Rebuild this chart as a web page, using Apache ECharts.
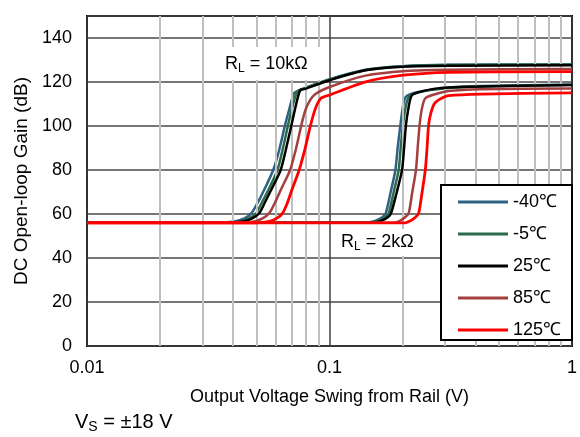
<!DOCTYPE html>
<html><head><meta charset="utf-8">
<script src="https://cdn.jsdelivr.net/npm/echarts@6/dist/echarts.min.js"></script>
<style>html,body{margin:0;padding:0;background:#fff}#c{width:580px;height:437px}</style>
</head><body><div id="c"></div>
<script>
const temps = ['-40℃', '-5℃', '25℃', '85℃', '125℃'];
const colors = ['#2e6283', '#2c6b4a', '#000000', '#a33f3f', '#ff0000'];
const yTicks = [0, 20, 40, 60, 80, 100, 120, 140];
const minorGrid = [0.02, 0.03, 0.04, 0.05, 0.06, 0.07, 0.08, 0.09, 0.2, 0.3, 0.4, 0.5, 0.6, 0.7, 0.8, 0.9];

// R_L = 10 kOhm  [V from rail, dB]
const rl10k_m40 = [[0.01,56],[0.034,56],[0.0405,56.6],[0.0446,58],[0.0476,60.3],[0.0504,64.8],[0.0538,71],[0.0586,80],[0.0620,89],[0.0656,100.5],[0.0682,107.5],[0.0715,115],[0.075,116.2],[0.0995,121.2],[0.141,125.6],[0.206,127.3],[0.31,127.8],[1,128]];
const rl10k_m5  = [[0.01,56],[0.036,56],[0.0425,56.6],[0.0467,58],[0.0498,60.3],[0.0525,65],[0.0560,71],[0.0610,80],[0.0640,89],[0.0675,100.5],[0.0700,108],[0.0738,115.8],[0.078,117],[0.0995,121],[0.141,125.5],[0.206,127.2],[0.31,127.7],[1,127.9]];
const rl10k_25  = [[0.01,56],[0.037,56],[0.0440,56.6],[0.0480,58],[0.0513,60.3],[0.0540,65],[0.0575,71],[0.0629,80],[0.0660,89],[0.0697,100.5],[0.0722,108],[0.0757,116.2],[0.080,117],[0.0995,120.7],[0.141,125.3],[0.206,127],[0.31,127.4],[1,127.6]];
const rl10k_85  = [[0.01,56],[0.042,56],[0.049,56.6],[0.053,58],[0.0564,60.3],[0.0595,65],[0.0630,71],[0.0688,80],[0.0725,89],[0.0766,100.5],[0.080,108],[0.0864,114],[0.0995,117.6],[0.141,122.9],[0.206,125],[0.31,125.6],[1,125.9]];
const rl10k_125 = [[0.01,56],[0.050,56],[0.0565,56.6],[0.0605,58],[0.0640,60.3],[0.0670,65],[0.0700,71],[0.0750,80],[0.0790,89],[0.0836,100.5],[0.0875,108],[0.0922,112.6],[0.0995,114],[0.141,120.1],[0.206,123.2],[0.31,124.4],[1,124.7]];

// R_L = 2 kOhm
const rl2k_m40 = [[0.01,56],[0.14,56],[0.155,57],[0.165,58.5],[0.1706,60.3],[0.1788,70],[0.1870,80],[0.1910,90],[0.1961,100.5],[0.2003,108],[0.2052,112.9],[0.215,114.5],[0.25,116.2],[0.31,117.5],[0.42,118.2],[1,118.8]];
const rl2k_m5  = [[0.01,56],[0.145,56],[0.160,57],[0.170,58.5],[0.1755,60.3],[0.1840,70],[0.1929,80],[0.1965,90],[0.2009,100.5],[0.2055,108],[0.2121,113.3],[0.225,114.8],[0.26,116.3],[0.31,117.3],[0.42,118],[1,118.7]];
const rl2k_25  = [[0.01,56],[0.150,56],[0.164,57],[0.174,58.5],[0.1794,60.3],[0.1895,70],[0.1991,80],[0.2030,90],[0.2067,100.5],[0.2115,108],[0.2180,113.8],[0.232,115.3],[0.28,117.1],[0.42,117.9],[1,118.6]];
const rl2k_85  = [[0.01,56],[0.185,56],[0.196,57],[0.205,58.5],[0.2121,60.3],[0.2195,70],[0.2273,80],[0.2310,90],[0.2353,100.5],[0.2405,108],[0.2484,112.6],[0.27,114.3],[0.31,115.9],[0.42,116.7],[1,117.1]];
const rl2k_125 = [[0.01,56],[0.205,56],[0.217,57],[0.226,58.5],[0.2332,60.3],[0.2410,70],[0.2484,80],[0.2525,90],[0.2563,100.5],[0.2620,106],[0.2713,110.3],[0.29,112.6],[0.31,113.8],[0.423,114.5],[1,115.1]];

const curves10k = [rl10k_m40, rl10k_m5, rl10k_25, rl10k_85, rl10k_125];
const curves2k = [rl2k_m40, rl2k_m5, rl2k_25, rl2k_85, rl2k_125];

const FONT = "'Liberation Sans', Arial, sans-serif";
const chart = echarts.init(document.getElementById('c'), null, {renderer: 'canvas'});

const series = [{
  type: 'line', data: [], silent: true, z: 1,
  markLine: {
    silent: true, symbol: 'none', animation: false,
    label: {show: false},
    lineStyle: {color: '#c0c0c0', width: 2, type: 'solid'},
    data: minorGrid.map(v => ({xAxis: v}))
  }
}];
temps.forEach((t, i) => {
  [curves10k[i], curves2k[i]].forEach(d => {
    series.push({
      name: t, type: 'line', data: d, showSymbol: false, symbol: 'none',
      smooth: 0.25, z: 3 + i,
      lineStyle: {color: colors[i], width: i === 4 ? 2.8 : 2.5},
      itemStyle: {color: colors[i]}
    });
  });
});

chart.setOption({
  animation: false,
  backgroundColor: '#fff',
  grid: {left: 87, top: 16, right: 6, bottom: 91, show: true, borderColor: '#000', borderWidth: 2, backgroundColor: 'transparent'},
  xAxis: {
    type: 'log', logBase: 10, min: 0.01, max: 1,
    name: 'Output Voltage Swing from Rail (V)', nameLocation: 'middle', nameGap: 42,
    nameTextStyle: {fontFamily: FONT, fontSize: 18, color: '#000'},
    axisLine: {show: false}, axisTick: {show: false},
    axisLabel: {fontFamily: FONT, fontSize: 18, color: '#000', margin: 13,
      formatter: v => (v < 0.05 ? '0.01' : v < 0.5 ? '0.1' : '1')},
    splitLine: {show: true, lineStyle: {color: '#404040', width: 1.5}}
  },
  yAxis: {
    type: 'value', min: 0, max: 150, interval: 20,
    name: 'DC Open-loop Gain (dB)', nameLocation: 'middle', nameGap: 48,
    nameTextStyle: {fontFamily: FONT, fontSize: 19, color: '#000'},
    axisLine: {show: false}, axisTick: {show: false},
    axisLabel: {fontFamily: FONT, fontSize: 18, color: '#000', margin: 15,
      formatter: v => (yTicks.indexOf(v) >= 0 ? String(v) : '')},
    splitLine: {show: true, lineStyle: {color: '#4a4a4a', width: 1.5}}
  },
  legend: {
    data: temps, orient: 'vertical', left: 453, top: 188, z: 60,
    itemWidth: 50, itemHeight: 3, icon: 'rect', itemGap: 14,
    textStyle: {fontFamily: FONT, fontSize: 18, color: '#000'},
    selectedMode: false
  },
  graphic: [
    {type: 'rect', z: 50, shape: {x: 441, y: 185, width: 131, height: 155},
      style: {fill: '#fff', stroke: '#000', lineWidth: 2}},
    {type: 'rect', z: 50, shape: {x: 216, y: 47, width: 108, height: 33}, style: {fill: '#fff'}},
    {type: 'text', z: 51, x: 225, y: 54,
      style: {text: 'R{s|L} = 10kΩ', fontFamily: FONT, fontSize: 18, fill: '#000',
        rich: {s: {fontSize: 12, fontFamily: FONT, verticalAlign: 'bottom', padding: [9, 0, 0, 0]}}}},
    {type: 'rect', z: 50, shape: {x: 334, y: 229, width: 86, height: 27}, style: {fill: '#fff'}},
    {type: 'text', z: 51, x: 341, y: 232,
      style: {text: 'R{s|L} = 2kΩ', fontFamily: FONT, fontSize: 18, fill: '#000',
        rich: {s: {fontSize: 12, fontFamily: FONT, verticalAlign: 'bottom', padding: [9, 0, 0, 0]}}}},
    {type: 'text', z: 51, x: 75, y: 411,
      style: {text: 'V{s|S} = ±18 V', fontFamily: FONT, fontSize: 20, fill: '#000',
        rich: {s: {fontSize: 14, fontFamily: FONT, padding: [9, 0, 0, 0]}}}}
  ],
  series: series
});
</script></body></html>
